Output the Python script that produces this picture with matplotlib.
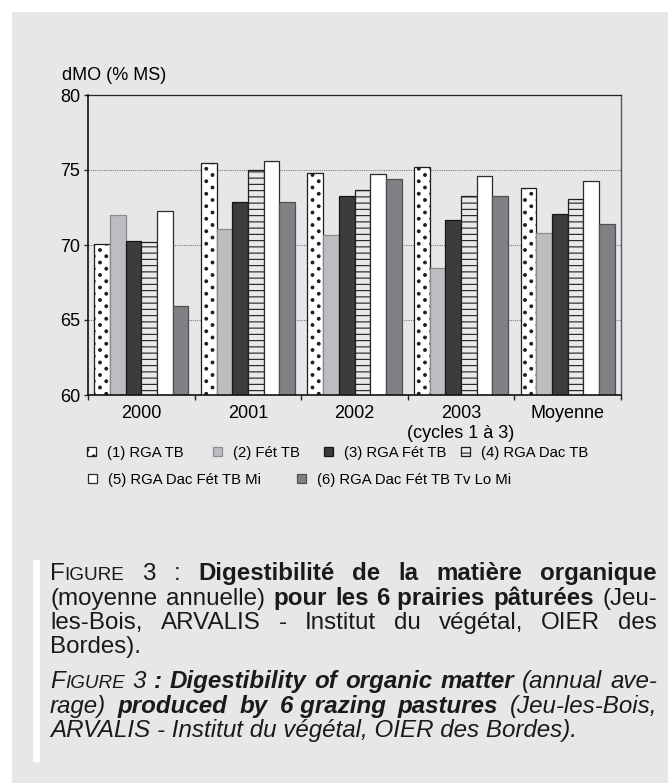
import numpy as np
import matplotlib
matplotlib.use("Agg")
import matplotlib.pyplot as plt
import matplotlib.hatch as mhatch
from matplotlib.path import Path
from matplotlib.patches import Rectangle
from matplotlib.transforms import IdentityTransform

# ---------------- data ----------------
CATEGORIES = ["2000", "2001", "2002", "2003\n(cycles 1 à 3)", "Moyenne"]
SERIES = ["(1) RGA TB", "(2) Fét TB", "(3) RGA Fét TB", "(4) RGA Dac TB",
          "(5) RGA Dac Fét TB Mi", "(6) RGA Dac Fét TB Tv Lo Mi"]
S1 = [70.05, 75.5, 74.8, 75.2, 73.8]
S2 = [72.0, 71.05, 70.7, 68.45, 70.8]
S3 = [70.25, 72.9, 73.3, 71.7, 72.1]
S4 = [70.2, 75.0, 73.7, 73.3, 73.05]
S5 = [72.3, 75.6, 74.75, 74.6, 74.3]
S6 = [65.95, 72.9, 74.4, 73.3, 71.4]
Y_TICKS = [60, 65, 70, 75, 80]
Y_LABEL = "dMO (% MS)"

CAPTION_LINES = [
    ([[("F", "n"), ("IGURE", "sc")], [("3", "n")], [(":", "n")],
      [("Digestibilité", "b")], [("de", "b")], [("la", "b")],
      [("matière", "b")], [("organique", "b")]], True),
    ([[("(moyenne", "n")], [("annuelle)", "n")], [("pour", "b")], [("les", "b")],
      [("6 prairies", "b")], [("pâturées", "b")], [("(Jeu-", "n")]], True),
    ([[("les-Bois,", "n")], [("ARVALIS", "n")], [("-", "n")], [("Institut", "n")],
      [("du", "n")], [("végétal,", "n")], [("OIER", "n")], [("des", "n")]], True),
    ([[("Bordes).", "n")]], False),
    ([[("F", "i"), ("IGURE", "sci")], [("3", "i")], [(":", "bi")],
      [("Digestibility", "bi")], [("of", "bi")], [("organic", "bi")],
      [("matter", "bi")], [("(annual", "i")], [("ave-", "i")]], True),
    ([[("rage)", "i")], [("produced", "bi")], [("by", "bi")], [("6 grazing", "bi")],
      [("pastures", "bi")], [("(Jeu-les-Bois,", "i")]], True),
    ([[("ARVALIS - Institut du végétal, OIER des Bordes).", "i")]], False),
]

# ---------------- custom hatch patterns ----------------
class CheckerDots(mhatch.HatchPatternBase):
    def __init__(self, hatch, density):
        m = 16 if "." in hatch else 0
        circ = Path.unit_circle()
        self.sv = circ.vertices
        self.sc = circ.codes
        self.pts = [(i / m, j / m) for i in range(m + 1) for j in range(m + 1)
                    if (i + j) % 2 == 0] if m else []
        self.num_vertices = len(self.pts) * len(self.sv)

    def set_vertices_and_codes(self, vertices, codes):
        r = 0.0135
        n = len(self.sv)
        c = 0
        for (px, py) in self.pts:
            vertices[c:c + n] = self.sv * r + (px, py)
            codes[c:c + n] = self.sc
            c += n


class HLines(mhatch.HatchPatternBase):
    def __init__(self, hatch, density):
        self.num_lines = 16 if "-" in hatch else 0
        self.num_vertices = self.num_lines * 2

    def set_vertices_and_codes(self, vertices, codes):
        steps = (np.arange(self.num_lines) + 0.5) / self.num_lines
        vertices[0::2, 0] = 0.0
        vertices[0::2, 1] = steps
        vertices[1::2, 0] = 1.0
        vertices[1::2, 1] = steps
        codes[0::2] = Path.MOVETO
        codes[1::2] = Path.LINETO


mhatch._hatch_types = [
    HLines if t is mhatch.HorizontalHatch else
    CheckerDots if t is mhatch.SmallFilledCircles else t
    for t in mhatch._hatch_types
]

plt.rcParams["font.family"] = ["Liberation Sans", "DejaVu Sans"]
plt.rcParams["hatch.linewidth"] = 0.8

W, H = 668, 783
BG = "#e6e7e9"
fig = plt.figure(figsize=(W / 100, H / 100), dpi=100, facecolor="white")

# gray panel and white caption bar
fig.patches.append(Rectangle((12, 0), W - 12, H - 12, transform=IdentityTransform(),
                             facecolor=BG, edgecolor="none", zorder=-10))
fig.patches.append(Rectangle((33, H - 762), 7, 202, transform=IdentityTransform(),
                             facecolor="white", edgecolor="none", zorder=-9))

ax = fig.add_axes([88 / W, (H - 395) / H, 533 / W, 300 / H])
ax.set_facecolor("none")

STYLES = [
    dict(facecolor="white", edgecolor="#1e1e1e", hatch="."),
    dict(facecolor="#bcbdc0", edgecolor="#8a8b8e"),
    dict(facecolor="#3c3c3c", edgecolor="#151515"),
    dict(facecolor="#e9e9eb", edgecolor="#1e1e1e", hatch="-"),
    dict(facecolor="white", edgecolor="#2a2a2a"),
    dict(facecolor="#808184", edgecolor="#505050"),
]
VALUES = [S1, S2, S3, S4, S5, S6]
x = np.arange(len(CATEGORIES))
bw = 1 / 6.8
containers = []
for i, (vals, st) in enumerate(zip(VALUES, STYLES)):
    c = ax.bar(x + (i - 2.5) * bw, vals, width=bw, linewidth=0.9, zorder=2, **st)
    containers.append(c)

ax.set_xlim(-0.5, len(CATEGORIES) - 0.5)
ax.set_ylim(60, 80)
ax.set_yticks(Y_TICKS)
ax.set_axisbelow(True)
ax.yaxis.grid(True, color="#7a7a7a", linestyle=(0, (1, 1)), linewidth=0.8)
ax.xaxis.grid(False)

ax.set_xticks(np.arange(len(CATEGORIES) + 1) - 0.5)
ax.set_xticklabels([])
ax.set_xticks(x, CATEGORIES, minor=True)
ax.tick_params(axis="x", which="major", direction="out", length=3.5, width=1, color="#222")
ax.tick_params(axis="x", which="minor", length=0, pad=7.5, labelsize=13)
ax.tick_params(axis="y", direction="out", length=3, width=1, pad=2.5, labelsize=13, color="#222")

for s in ["left", "bottom"]:
    ax.spines[s].set_color("#111")
    ax.spines[s].set_linewidth(1.2)
ax.spines["top"].set_color("#222")
ax.spines["top"].set_linewidth(0.9)
ax.spines["right"].set_color("#555")
ax.spines["right"].set_linewidth(1.0)

fig.text(62 / W, 1 - 75 / H, Y_LABEL, ha="left", va="center", fontsize=13)

# legends (flow layout as in the original)
LEG_POS = [(87, 453), (213, 453), (324, 453), (461, 453), (88, 480), (297, 480)]
for c, lab, (lx, ly) in zip(containers, SERIES, LEG_POS):
    lg = fig.legend([c], [lab], loc="center left", bbox_to_anchor=(lx / W, 1 - ly / H),
                    bbox_transform=fig.transFigure, frameon=False, borderpad=0,
                    borderaxespad=0, handlelength=0.6, handleheight=0.6,
                    handletextpad=0.75, fontsize=10.7)

# caption with justified lines
CAP_LEFT, CAP_RIGHT = 50, 657
CAP_BASE = [580, 605, 629, 653, 688, 713, 737]
FS = 17.4
FONT = {
    "n": dict(fontsize=FS),
    "b": dict(fontsize=FS, fontweight="bold"),
    "i": dict(fontsize=FS, fontstyle="italic"),
    "bi": dict(fontsize=FS, fontweight="bold", fontstyle="italic"),
    "sc": dict(fontsize=FS * 0.78),
    "sci": dict(fontsize=FS * 0.78, fontstyle="italic"),
}
renderer = fig.canvas.get_renderer()
space_w = FS / 72 * 100 * 0.278
for (words, justify), base in zip(CAPTION_LINES, CAP_BASE):
    items = []
    widths = []
    for word in words:
        runs = []
        ww = 0
        for s, st in word:
            t = fig.text(0, 0, s, transform=IdentityTransform(), ha="left",
                         va="baseline", color="#1a1a1a", **FONT[st])
            w_ = t.get_window_extent(renderer).width
            runs.append((t, w_))
            ww += w_
        items.append(runs)
        widths.append(ww)
    if justify and len(words) > 1:
        gap = (CAP_RIGHT - CAP_LEFT - sum(widths)) / (len(words) - 1)
    else:
        gap = space_w
    xc = CAP_LEFT
    for runs, ww in zip(items, widths):
        xx = xc
        for t, w_ in runs:
            t.set_position((xx, H - base))
            xx += w_
        xc += ww + gap

fig.savefig("out.png", dpi=100, facecolor="white")
